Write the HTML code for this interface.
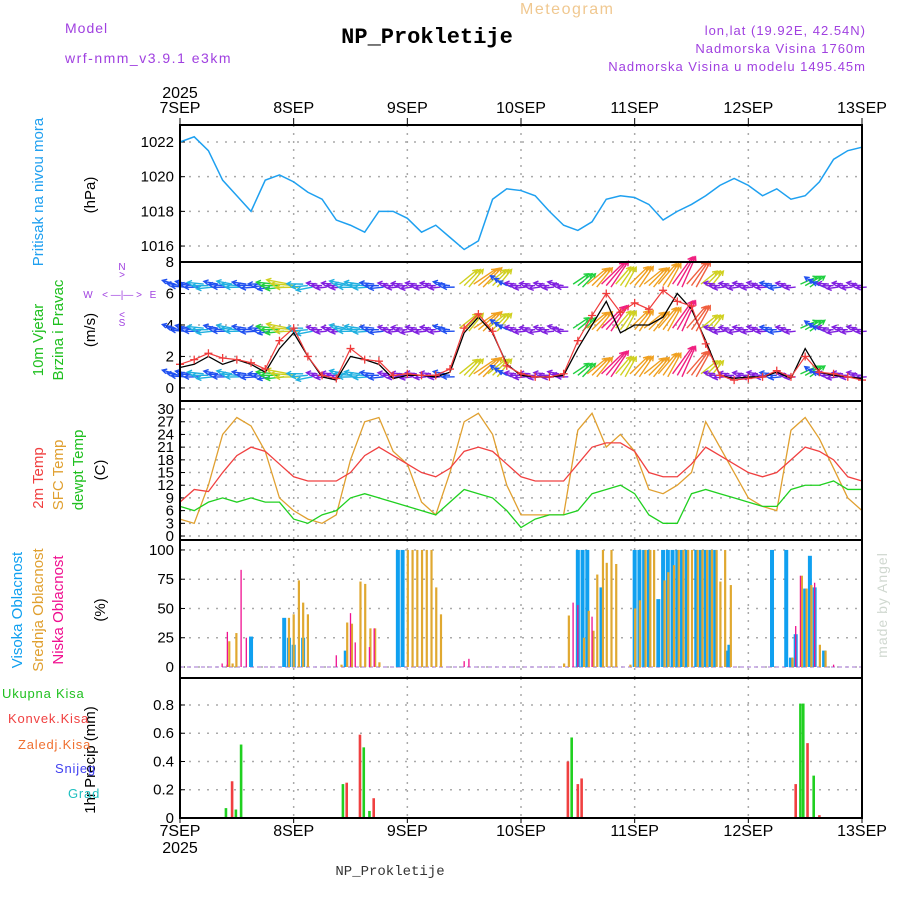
<!DOCTYPE html>
<html><head><meta charset="utf-8"><style>
body{margin:0;background:#fff;}
svg{display:block;font-family:"Liberation Sans",sans-serif;}
</style></head><body>
<svg id="c" width="900" height="900" viewBox="0 0 900 900"></svg>
<script>
// ---- data ----
const days=["7SEP","8SEP","9SEP","10SEP","11SEP","12SEP","13SEP"];
const hours3=[0,3,6,9,12,15,18,21,24,27,30,33,36,39,42,45,48,51,54,57,60,63,66,69,72,75,78,81,84,87,90,93,96,99,102,105,108,111,114,117,120,123,126,129,132,135,138,141,144];
const pressure=[1022,1022.3,1021.5,1019.8,1018.9,1018,1019.8,1020.1,1019.7,1019.1,1018.7,1017.5,1017.2,1016.8,1018,1018,1017.6,1016.8,1017.2,1016.5,1015.8,1016.3,1018.7,1019.3,1019.2,1018.9,1018,1017.2,1016.9,1017.4,1018.7,1018.9,1018.8,1018.4,1017.5,1018,1018.4,1018.9,1019.5,1019.9,1019.5,1018.9,1019.3,1018.7,1018.9,1019.7,1021,1021.5,1021.7];
const pTicks=[1016,1018,1020,1022];
const windSpeed=[1.3,1.5,2.0,1.5,1.8,1.5,1.0,2.5,3.5,2.0,0.7,0.5,2.0,1.8,1.5,0.6,0.8,0.8,0.7,1.0,3.5,4.5,3.5,1.5,0.8,0.7,0.7,0.8,2.5,4.0,5.5,3.5,4.0,4.0,4.5,6.0,5.0,3.0,0.8,0.6,0.7,0.7,1.0,0.6,2.5,1.0,0.8,0.7,0.6];
const windGust=[1.5,1.8,2.2,1.9,1.8,1.6,1.2,3.0,3.8,2.0,0.8,0.6,2.5,1.8,1.7,0.8,0.9,0.8,0.8,1.2,3.8,4.7,3.6,1.4,0.9,0.7,0.7,0.9,3.0,4.6,6.0,4.8,5.4,5.0,6.2,5.5,5.2,2.8,0.8,0.5,0.6,0.7,1.1,0.7,2.0,1.0,0.9,0.7,0.5];
const windDir=[170,175,180,175,175,178,185,180,175,185,180,180,175,178,180,180,182,180,180,175,45,40,45,150,180,182,180,175,40,45,50,55,50,45,55,60,55,45,180,182,180,178,180,180,30,150,182,180,178];
const windRows=[6.5,3.7,0.8];
const wTicks=[0,2,4,6,8];
const temp2m=[8,11,10.5,15,19,21,20,17,14,13,13,13,15,19,21,19,17,15,14,16,20,21,20,17,14,13,13,13,17,21,22,22,20,15,14,14,17,21,19,17,15,14,15,18,21,20,18,14,13];
const tempSfc=[4,3,12,24,28,26,20,9,6,4,3,5,18,27,28,20,17,8,5,15,27,29,24,12,5,5,5,5,25,29,21,24,20,11,10,12,15,27,21,15,9,7,6,25,28,23,16,9,6];
const tempDew=[7,6,8,9,8,9,8,8,4,3,5,6,9,10,9,8,7,6,5,8,11,10,9,6,2,4,5,5,6,10,11,12,10,5,3,3,10,11,10,9,8,7,7,11,12,12,13,11,11];
const tTicks=[0,3,6,9,12,15,18,21,24,27,30];
const cloudHigh=[[15,26],[22,42],[23,25],[24,19],[26,25],[35,14],[46,100],[47,100],[84,100],[85,100],[86,100],[89,68],[96,100],[97,100],[98,100],[99,100],[101,58],[102,100],[103,100],[104,100],[105,100],[106,100],[107,100],[109,100],[110,100],[111,100],[112,100],[113,100],[115.3,14],[116,19],[125,100],[128,100],[129,8],[130,28],[132,67],[133,95],[134,68],[136,14]];
const cloudMid=[[9.9,2],[10.3,22],[11,3],[11.8,29],[22.9,42],[23.9,45],[25,74],[25.9,55],[26.9,45],[34,2],[35.2,38],[36.2,37],[38,73],[39,71],[40.1,33],[41.1,33],[42,4],[48,100],[49,100],[50,100],[51,100],[52,100],[53,100],[54,68],[55,45],[81,3],[82,44],[85.2,25],[86.2,48],[87.2,31],[88,79],[89.2,100],[90,89],[91,100],[92,88],[95,2],[96,50],[97,57],[98.2,100],[99.2,100],[100,100],[102.2,74],[103,81],[104.2,87],[105.2,100],[106.2,100],[107.2,100],[108,100],[109.2,100],[110.2,100],[111.2,100],[112.2,100],[113.2,100],[114,73],[115,100],[116.2,70],[129.2,8],[131.2,78],[132.2,67],[133.2,70],[135,19],[136.2,14]];
const cloudLow=[[8.9,3],[10,30],[12.9,83],[14,25],[33,10],[36,46],[37,21],[40,17],[41,33],[60,5],[61,7],[83,55],[84,53],[87,43],[130,35],[131,78],[134,72],[138,2]];
const cTicks=[0,25,50,75,100];
const precipTotal=[[9.7,0.07],[11.8,0.06],[12.9,0.52],[34.4,0.24],[38.8,0.5],[40,0.05],[82.7,0.57],[131,0.81],[131.6,0.81],[133.8,0.3]];
const precipConv=[[11,0.26],[35.2,0.25],[38,0.59],[40.9,0.14],[81.9,0.4],[84,0.24],[84.8,0.28],[130,0.24],[132.5,0.53],[135,0.02]];
const prTicks=[0,0.2,0.4,0.6,0.8];

// ---- layout ----
const svg=document.getElementById('c');
const NS="http://www.w3.org/2000/svg";
const X0=180,X1=862;
const xh=h=>X0+(X1-X0)*h/144;
function el(tag,attrs,parent){const e=document.createElementNS(NS,tag);for(const k in attrs)e.setAttribute(k,attrs[k]);(parent||svg).appendChild(e);return e;}
function txt(s,x,y,size,fill,anchor,extra){const t=el('text',Object.assign({x:x,y:y,'font-size':size,fill:fill,'text-anchor':anchor||'start'},extra||{}));t.textContent=s;return t;}
const panels=[
 {top:125,bot:262,vmin:1015.08,vmax:1022.98,ticks:pTicks,name:'pressure'},
 {top:262,bot:401,vmin:-0.83,vmax:8,ticks:wTicks,name:'wind'},
 {top:401,bot:540,vmin:-0.94,vmax:31.9,ticks:tTicks,name:'temp'},
 {top:540,bot:678,vmin:-9.4,vmax:108.5,ticks:cTicks,name:'cloud'},
 {top:678,bot:818,vmin:0,vmax:0.991,ticks:prTicks,name:'precip'}];
panels.forEach(p=>{p.y=v=>p.bot-(v-p.vmin)/(p.vmax-p.vmin)*(p.bot-p.top);});
const [PP,PW,PT,PC,PR]=panels;

// grids & ticks
panels.forEach(p=>{
 const g=el('g',{});
 
 
 for(let d=1;d<6;d++){el('line',{x1:xh(d*24),x2:xh(d*24),y1:p.top,y2:p.bot,stroke:'#aaa','stroke-dasharray':'2,6','stroke-width':1.5},g);}
 p.ticks.forEach(t=>{const y=p.y(t);
  el('line',{x1:X0,x2:X1,y1:y,y2:y,stroke:'#aaa','stroke-dasharray':'2,7','stroke-width':1.5},g);
  el('line',{x1:X0,x2:X0+5,y1:y,y2:y,stroke:'#000'},g);
  const l=txt(String(t),X0-6,y+5,15,'#000','end');
  
  
 });
});
function poly(vals,p,color,name,w){
 const pts=hours3.map((h,i)=>xh(h)+','+p.y(vals[i])).join(' ');
 const e=el('polyline',{points:pts,fill:'none',stroke:color,'stroke-width':w||1.3});
 
 
 return e;
}
poly(pressure,PP,'#1ea0f0','pressure-line',1.5);
// wind
function wcol(s){if(s<1)return '#8020e0';if(s<1.6)return '#2050f0';if(s<2.2)return '#20b0e0';if(s<3)return '#20d040';if(s<3.8)return '#d0d020';if(s<4.6)return '#f0a020';if(s<5.5)return '#f06040';return '#f02080';}
windRows.forEach(r=>{
 hours3.forEach((h,i)=>{
  const s=windSpeed[i];
  [-1,0,1].forEach(k=>{
   const a=(windDir[i]+k*6)*Math.PI/180,L=8+s*4.2;
   const x=xh(h)+k*4.7,y=PW.y(r)+k*1.5,x2=x+L*Math.cos(a),y2=y-L*Math.sin(a);
   const ha=Math.atan2(y2-y,x2-x);
   const c=wcol(s);
   const ar=el('path',{d:`M${x},${y}L${x2},${y2}M${x2-5*Math.cos(ha-0.5)},${y2-5*Math.sin(ha-0.5)}L${x2},${y2}L${x2-5*Math.cos(ha+0.5)},${y2-5*Math.sin(ha+0.5)}`,stroke:c,'stroke-width':1.4,fill:'none'});
   
   
  });
 });
});
poly(windSpeed,PW,'#000','wind-speed-line',1.3);
poly(windGust,PW,'#f03c3c','wind-gust-line',1.2);
hours3.forEach((h,i)=>{const x=xh(h),y=PW.y(windGust[i]);
 const m=el('path',{d:`M${x-4},${y}h8M${x},${y-4}v8`,stroke:'#f03c3c','stroke-width':1.3});
 
 
});
// temp
poly(tempSfc,PT,'#e0a030','sfc-temp-line',1.3);
poly(temp2m,PT,'#f04040','temp-2m-line',1.3);
poly(tempDew,PT,'#20d020','dewpoint-line',1.3);
// clouds baseline
el('line',{x1:X0,x2:X1,y1:PC.y(0),y2:PC.y(0),stroke:'#c0a0e0','stroke-width':1.5,'stroke-dasharray':'4,3'});
function bars(arr,p,color,w,off,name){arr.forEach(([h,v])=>{const x=xh(h)+off,y0=p.y(0),y=p.y(v);
 const b=el('rect',{x:x-w/2,y:y,width:w,height:Math.max(0,y0-y),fill:color});
 
 });}
bars(cloudHigh,PC,'#10a0f0',4,0,'high-cloud-bar');
bars(cloudMid,PC,'#e0a830',2.2,0.5,'mid-cloud-bar');
bars(cloudLow,PC,'#f01090',1.3,0,'low-cloud-bar');
bars(precipConv,PR,'#f04040',2.6,0,'convective-precip-bar');
bars(precipTotal,PR,'#20d020',2.6,0,'total-precip-bar');
// borders
panels.forEach(p=>{const r=el('rect',{x:X0,y:p.top,width:X1-X0,height:p.bot-p.top,fill:'none',stroke:'#000','stroke-width':2});
 
 });
// time axes
days.forEach((d,i)=>{const x=xh(i*24);
 const a=txt(d,x,113,16,'#000','middle');
 const b=txt(d,x,836,16,'#000','middle');
 el('line',{x1:x,x2:x,y1:118,y2:125,stroke:'#000'});
 el('line',{x1:x,x2:x,y1:818,y2:823,stroke:'#000'});
});
</script>
<svg width="900" height="900" style="position:absolute;left:0;top:0" font-family="Liberation Sans, sans-serif">
 <text x="180" y="98" font-size="16" text-anchor="middle">2025</text>
 <text x="180" y="853" font-size="16" text-anchor="middle">2025</text>
 <text x="65" y="33" font-size="14" fill="#a040e0" letter-spacing="1">Model</text>
 <text x="65" y="63" font-size="14" fill="#a040e0" letter-spacing="1.5">wrf-nmm_v3.9.1 e3km</text>
 <text x="520" y="14" font-size="16" fill="#f0c890" letter-spacing="1.5">Meteogram</text>
 <text x="427" y="43" font-size="22" font-weight="bold" font-family="Liberation Mono, monospace" text-anchor="middle">NP_Prokletije</text>
 <text x="866" y="35" font-size="13" fill="#a040e0" text-anchor="end" letter-spacing="1">lon,lat (19.92E, 42.54N)</text>
 <text x="866" y="53" font-size="13" fill="#a040e0" text-anchor="end" letter-spacing="1">Nadmorska Visina 1760m</text>
 <text x="866" y="71" font-size="13" fill="#a040e0" text-anchor="end" letter-spacing="1">Nadmorska Visina u modelu 1495.45m</text>
 <text x="390" y="875" font-size="14" font-family="Liberation Mono, monospace" text-anchor="middle" fill="#333">NP_Prokletije</text>
 <text transform="translate(887,605) rotate(-90)" font-size="14" fill="#d0d8d0" text-anchor="middle" letter-spacing="1">made by Angel</text>
 <g font-size="15" text-anchor="middle">
  <text transform="translate(43,192) rotate(-90)" fill="#20a0f0">Pritisak na nivou mora</text>
  <text transform="translate(95,195) rotate(-90)" fill="#000">(hPa)</text>
  <text transform="translate(43,340) rotate(-90)" fill="#20c020">10m Vjetar</text>
  <text transform="translate(63,330) rotate(-90)" fill="#20c020">Brzina i Pravac</text>
  <text transform="translate(95,330) rotate(-90)" fill="#000">(m/s)</text>
  <text transform="translate(43,478) rotate(-90)" fill="#f04040">2m Temp</text>
  <text transform="translate(63,475) rotate(-90)" fill="#e0a030">SFC Temp</text>
  <text transform="translate(83,470) rotate(-90)" fill="#20c020">dewpt Temp</text>
  <text transform="translate(105,470) rotate(-90)" fill="#000">(C)</text>
  <text transform="translate(22,610) rotate(-90)" fill="#10a0f0">Visoka Oblacnost</text>
  <text transform="translate(43,610) rotate(-90)" fill="#e0a030">Srednja Oblacnost</text>
  <text transform="translate(63,610) rotate(-90)" fill="#f01090">Niska Oblacnost</text>
  <text transform="translate(105,610) rotate(-90)" fill="#000">(%)</text>
  <text transform="translate(95,760) rotate(-90)" fill="#000">1hr Precip (mm)</text>
 </g>
 <g font-size="13" letter-spacing="0.8">
  <text x="2" y="698" fill="#20c020">Ukupna Kisa</text>
  <text x="8" y="723" fill="#f04040">Konvek.Kisa</text>
  <text x="18" y="749" fill="#f07030">Zaledj.Kisa</text>
  <text x="55" y="773" fill="#4040f0">Snijeg</text>
  <text x="68" y="798" fill="#20c0c0">Grad</text>
 </g>
 <g fill="#a040e0" font-size="10" text-anchor="middle">
  <text x="122" y="270">N</text><text x="122" y="278">&gt;</text>
  <text x="88" y="298">W</text><text x="153" y="298">E</text>
  <text x="122" y="298">&lt; —|— &gt;</text>
  <text x="122" y="318">&lt;</text><text x="122" y="326">S</text>
 </g>
</svg>
</body></html>
